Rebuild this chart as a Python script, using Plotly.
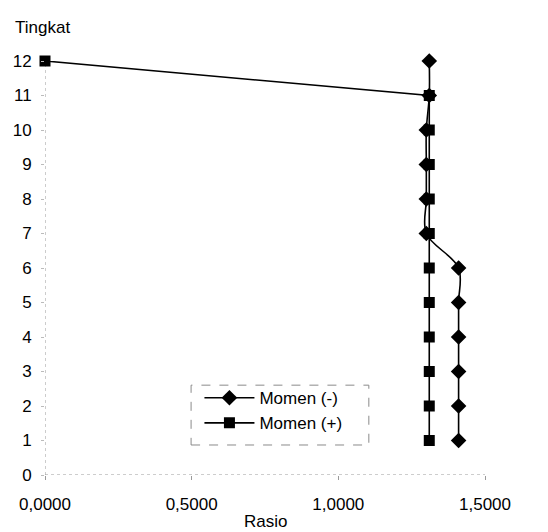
import plotly.graph_objects as go

# Storey levels and moment ratios
tingkat = [1, 2, 3, 4, 5, 6, 7, 8, 9, 10, 11, 12]
rasio_momen_neg = [1.41, 1.41, 1.41, 1.41, 1.41, 1.41, 1.30, 1.30, 1.30, 1.30, 1.31, 1.31]
rasio_momen_pos = [1.31, 1.31, 1.31, 1.31, 1.31, 1.31, 1.31, 1.31, 1.31, 1.31, 1.31, 0.0]

x_ticks = [0, 0.5, 1.0, 1.5]
x_tick_text = ["0,0000", "0,5000", "1,0000", "1,5000"]
y_ticks = list(range(0, 13))

font_family = "Liberation Sans, Arial, sans-serif"

fig = go.Figure()

fig.add_trace(go.Scatter(
    x=rasio_momen_neg, y=tingkat, name="Momen (-)",
    mode="lines+markers",
    line=dict(color="black", width=1.6, shape="spline", smoothing=1.0),
    marker=dict(symbol="diamond", size=12, color="black"),
    cliponaxis=False,
))
fig.add_trace(go.Scatter(
    x=rasio_momen_pos, y=tingkat, name="Momen (+)",
    mode="lines+markers",
    line=dict(color="black", width=1.6),
    marker=dict(symbol="square", size=11, color="black"),
    cliponaxis=False,
))

# Dotted axis lines
fig.add_shape(type="line", xref="x", yref="paper", x0=0, x1=0, y0=0, y1=1,
              line=dict(color="#9a9a9a", width=1, dash="dot"), layer="below")
fig.add_shape(type="line", xref="paper", yref="y", x0=0, x1=1, y0=0, y1=0,
              line=dict(color="#9a9a9a", width=1, dash="dot"), layer="below")

# Dashed frame around the legend
fig.add_shape(type="rect", xref="paper", yref="paper",
              x0=0.332, x1=0.736, y0=0.0725, y1=0.217,
              line=dict(color="#8a8a8a", width=1, dash="dash"),
              fillcolor="white", layer="below")

fig.add_annotation(text="Tingkat", xref="paper", yref="paper", x=-0.073, y=1.082,
                   xanchor="left", yanchor="middle", showarrow=False,
                   font=dict(family=font_family, size=17, color="black"))
fig.add_annotation(text="Rasio", xref="paper", yref="paper", x=0.5, y=-0.1135,
                   xanchor="center", yanchor="middle", showarrow=False,
                   font=dict(family=font_family, size=17, color="black"))

fig.update_layout(
    width=548, height=532,
    margin=dict(l=45, r=63, t=61, b=57),
    paper_bgcolor="white", plot_bgcolor="white",
    font=dict(family=font_family, size=17, color="black"),
    showlegend=True,
    legend=dict(
        x=0.351, y=0.229, xanchor="left", yanchor="top",
        bgcolor="rgba(0,0,0,0)", borderwidth=0,
        font=dict(family=font_family, size=17, color="black"),
        tracegroupgap=0, itemwidth=50,
    ),
    xaxis=dict(
        range=[0, 1.5], tickvals=x_ticks, ticktext=x_tick_text,
        showgrid=False, zeroline=False, showline=False,
        ticks="outside", ticklen=4, tickcolor="#9a9a9a",
        tickfont=dict(size=17), ticklabelstandoff=10,
    ),
    yaxis=dict(
        range=[0, 12], tickvals=y_ticks,
        showgrid=False, zeroline=False, showline=False,
        ticks="outside", ticklen=3, tickcolor="#bbbbbb",
        tickfont=dict(size=17), ticklabelstandoff=6,
    ),
)

fig.write_html("out.html")
